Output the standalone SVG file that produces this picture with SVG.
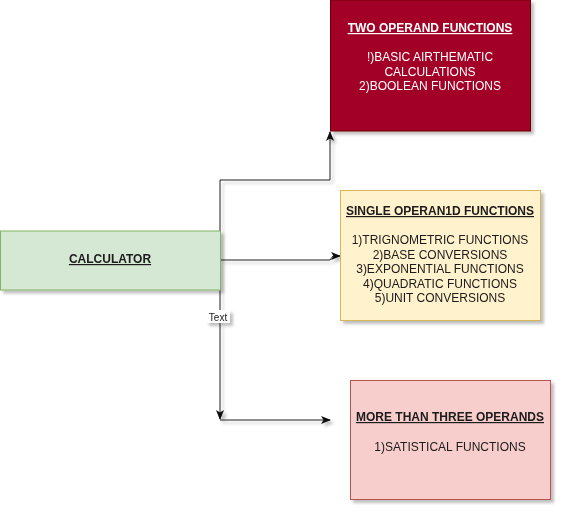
<svg xmlns="http://www.w3.org/2000/svg" width="562" height="512" viewBox="0 0 562 512">
<style>
text{font-family:"Liberation Sans",Arial,sans-serif;font-size:12px;text-anchor:middle}
.t{font-weight:bold;text-decoration:underline}
.w{fill:#ffffff}
.d{fill:#1a1a1a}
.edge{fill:none;stroke:#222;stroke-width:1}
</style>
<defs>
<filter id="sh" x="-10%" y="-10%" width="130%" height="130%">
<feGaussianBlur in="SourceAlpha" stdDeviation="1.5"/>
<feOffset dx="3" dy="3" result="o"/>
<feComponentTransfer><feFuncA type="linear" slope="0.25"/></feComponentTransfer>
<feMerge><feMergeNode/><feMergeNode in="SourceGraphic"/></feMerge>
</filter>
<marker id="ah" viewBox="0 0 10 10" refX="9" refY="5" markerWidth="10" markerHeight="10" orient="auto" markerUnits="userSpaceOnUse">
<path d="M0,1 L10,5 L0,9 L2.5,5 Z" fill="#111"/>
</marker>
</defs>
<g id="connectors" filter="url(#sh)">
<path class="edge" d="M220,290 L220,180 L330,180 L330,132" marker-end="url(#ah)"/>
<path class="edge" d="M221,260 L330,260 L333,256 L340,256" marker-end="url(#ah)"/>
<path class="edge" d="M220,290 L220,419" marker-end="url(#ah)"/>
<path class="edge" d="M220,420 L330,420" marker-end="url(#ah)"/>
<g id="edge-label">
<rect x="206" y="310" width="24" height="13" fill="#ffffff"/>
<text x="218" y="320.5" style="font-size:10px" class="d">Text</text>
</g>
</g>
<g id="calculator" filter="url(#sh)">
<rect x="0.5" y="231" width="220" height="59" fill="#d5e8d4" stroke="#82b366"/>
<text x="110" y="263" class="t d">CALCULATOR</text>
</g>
<g id="two-operand" filter="url(#sh)">
<rect x="330.5" y="0" width="200" height="131" fill="#a20025" stroke="#6f0000"/>
<text x="430" y="32" class="t w">TWO OPERAND FUNCTIONS</text>
<text x="430" y="61" class="w">!)BASIC AIRTHEMATIC</text>
<text x="430" y="75.5" class="w">CALCULATIONS</text>
<text x="430" y="90" class="w">2)BOOLEAN FUNCTIONS</text>
</g>
<g id="single-operand" filter="url(#sh)">
<rect x="340.5" y="190.5" width="200" height="130" fill="#fff2cc" stroke="#d6b656"/>
<text x="440" y="215" class="t d">SINGLE OPERAN1D FUNCTIONS</text>
<text x="440" y="244" class="d">1)TRIGNOMETRIC FUNCTIONS</text>
<text x="440" y="258.5" class="d">2)BASE CONVERSIONS</text>
<text x="440" y="273" class="d">3)EXPONENTIAL FUNCTIONS</text>
<text x="440" y="287.5" class="d">4)QUADRATIC FUNCTIONS</text>
<text x="440" y="302" class="d">5)UNIT CONVERSIONS</text>
</g>
<g id="more-than-three" filter="url(#sh)">
<rect x="350.5" y="380.5" width="200" height="119" fill="#f8cecc" stroke="#b85450"/>
<text x="450" y="421" class="t d">MORE THAN THREE OPERANDS</text>
<text x="450" y="451" class="d">1)SATISTICAL FUNCTIONS</text>
</g>
</svg>
